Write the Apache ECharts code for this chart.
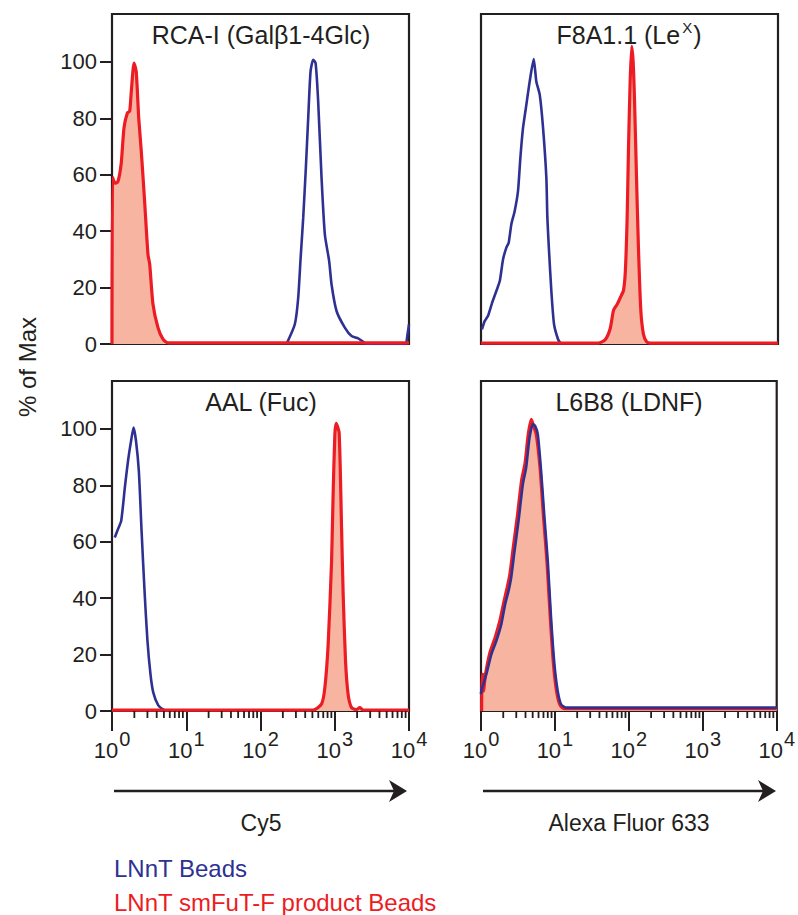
<!DOCTYPE html>
<html>
<head>
<meta charset="utf-8">
<script src="https://cdn.jsdelivr.net/npm/echarts/dist/echarts.min.js"></script>
<style>
html,body{margin:0;padding:0;background:#ffffff;}
#chart{width:798px;height:915px;}
</style>
</head>
<body>
<div id="chart"></div>
<script>
// ---------------- data ----------------
const panelTitles = ['RCA-I (Galβ1-4Glc)', 'F8A1.1 (Le{sup|X}{t|)}', 'AAL (Fuc)', 'L6B8 (LDNF)'];
const axisNames = ['Cy5', 'Alexa Fluor 633'];
const yAxisName = '% of Max';
const legendNames = ['LNnT Beads', 'LNnT smFuT-F product Beads'];
const yTickValues = [0, 20, 40, 60, 80, 100];
const xMajorTicks = [1, 10, 100, 1000, 10000];
const xMinorTicks = [2,3,4,5,6,7,8,9, 20,30,40,50,60,70,80,90, 200,300,400,500,600,700,800,900, 2000,3000,4000,5000,6000,7000,8000,9000];

// [fluorescence, % of max]
const rcaBeads = [[224,0],[290,7],[322,16.4],[347,30.5],[376,44.7],[408,62.4],[439,80.1],[472,96.6],[512,100.8],[552,99.6],[598,86],[664,58.9],[736,38.8],[841,29.4],[906,21.1],[1057,11.7],[1367,5.8],[1683,2.8],[2065,2.0],[2679,0.1],[8900,0],[9500,3],[10000,7]];
const rcaProduct = [[1,0],[1.02,59],[1.1,57],[1.2,57.5],[1.33,64],[1.45,76.6],[1.61,81.9],[1.73,82.5],[1.82,89.6],[1.98,99.6],[2.12,96.6],[2.29,80.1],[2.48,68.3],[2.75,50.6],[3.05,31.8],[3.22,28.3],[3.56,14.2],[4.16,5.8],[4.86,1.7],[5.67,0.4],[10000,0.4]];

const f8Beads = [[1.03,5.2],[1.12,8.1],[1.24,9.9],[1.41,14.6],[1.61,18.8],[1.79,22.3],[1.98,30],[2.19,34.1],[2.36,35.9],[2.56,42.4],[2.84,47.1],[3.15,54.2],[3.39,66],[3.68,76.6],[4.08,84.8],[4.53,93.1],[5.13,101],[5.56,93.1],[6.18,88.4],[6.85,76.6],[7.59,58.9],[7.83,44.7],[8.25,32.9],[8.86,18.8],[9.63,7],[10.9,1.7],[11.9,0]];
const f8Product = [[1,0.3],[38,0.3],[47,1.5],[55,5.5],[61,12],[68,14],[75,16.4],[83,19],[88,26],[93,45],[97,70],[102,93],[107,105.5],[112,100],[117,86],[124,60],[132,34],[142,12],[154,3.5],[170,0.8],[190,0.3],[10000,0.3]];

const aalBeads = [[1.09,61.5],[1.2,64.4],[1.33,67.4],[1.5,80],[1.65,89],[1.8,95.5],[1.95,100.5],[2.1,96],[2.3,85],[2.5,64],[2.75,42],[3.0,25],[3.3,13],[3.6,6.5],[4.2,2],[5.0,0.4],[5.8,0]];
const aalProduct = [[1,0.3],[512,0.3],[664,2.5],[736,8.3],[815,23.6],[906,53],[951,77],[1003,98],[1045,102],[1146,98.7],[1235,65],[1298,41.4],[1397,17.7],[1514,5.9],[1683,1.2],[1965,0.5],[2177,1.2],[2412,0.4],[10000,0.3]];

const ldnfBeads = [[1.0,6],[1.01,7.1],[1.18,13],[1.38,20.1],[1.61,24.8],[1.88,30.7],[2.12,37.8],[2.36,42.6],[2.56,47.3],[2.84,56.7],[3.22,67.4],[3.68,80.4],[4.08,86.3],[4.53,96.9],[5.02,101.7],[5.39,101.1],[5.87,98.1],[6.5,85.1],[7.22,68.5],[8.0,53.2],[8.86,33.1],[9.84,16.6],[10.9,7.1],[12.1,2.4],[14.1,1.2],[10000,1.2]];
const ldnfProduct = [[1.02,0],[1.03,13],[1.06,13],[1.08,7],[1.15,13],[1.33,21],[1.55,26],[1.8,32],[2.05,39],[2.27,44],[2.46,48.5],[2.73,58],[3.1,69],[3.55,82],[3.95,88],[4.35,98],[4.8,103.4],[5.15,101],[5.6,98],[6.3,86],[7.0,69],[7.8,53],[8.65,33],[9.6,16],[10.6,6.5],[11.8,2],[13.5,0.8],[10000,0.8]];

const beadsByPanel = [rcaBeads, f8Beads, aalBeads, ldnfBeads];
const productByPanel = [rcaProduct, f8Product, aalProduct, ldnfProduct];

// ---------------- style ----------------
const FONT = "'Liberation Sans', Arial, Helvetica, sans-serif";
const INK = '#231f20';
const BLUE = '#2e3192';
const RED = '#ed1c24';
const FILL = '#f7b4a0';
const Y_MAX = 117;

const grids = [
  {left: 112, top: 14, width: 297, height: 330},
  {left: 481, top: 14, width: 297, height: 330},
  {left: 112, top: 381, width: 297, height: 330},
  {left: 481, top: 381, width: 296, height: 330}
];

const xAxes = [];
const yAxes = [];
const series = [];
grids.forEach((g, i) => {
  const bottomRow = i >= 2;
  const leftCol = i % 2 === 0;
  xAxes.push({
    type: 'log', logBase: 10, min: xMajorTicks[0], max: xMajorTicks[xMajorTicks.length - 1], gridIndex: i, position: 'bottom',
    axisLine: {show: bottomRow, onZero: false, lineStyle: {color: INK, width: 2.2}},
    splitLine: {show: false},
    axisTick: {show: bottomRow, length: 20, lineStyle: {color: INK, width: 2}},
    axisLabel: {
      show: bottomRow, margin: 18, color: INK,
      formatter: v => '{b|10}{s|' + Math.round(Math.log10(v)) + '}',
      rich: {
        b: {fontSize: 22, fontFamily: FONT, color: INK, lineHeight: 32, verticalAlign: 'bottom'},
        s: {fontSize: 20, fontFamily: FONT, color: INK, verticalAlign: 'top', padding: [0, 0, 0, 1]}
      }
    }
  });
  yAxes.push({
    type: 'value', min: 0, max: Y_MAX, gridIndex: i,
    axisLine: {show: false},
    splitLine: {show: false},
    axisTick: {show: leftCol, customValues: yTickValues, length: 12, lineStyle: {color: INK, width: 2}},
    axisLabel: {show: leftCol, customValues: yTickValues, margin: 15, fontSize: 22, fontFamily: FONT, color: INK}
  });
});

grids.forEach((g, i) => {
  const beads = {
    name: legendNames[0], type: 'line', xAxisIndex: i, yAxisIndex: i,
    data: beadsByPanel[i], showSymbol: false, smooth: 0.2,
    lineStyle: {color: BLUE, width: 2.6}, itemStyle: {color: BLUE},
    z: i === 3 ? 4 : 2
  };
  const product = {
    name: legendNames[1], type: 'line', xAxisIndex: i, yAxisIndex: i,
    data: productByPanel[i], showSymbol: false, smooth: 0.2,
    lineStyle: {color: RED, width: 3.2}, itemStyle: {color: RED},
    areaStyle: {color: FILL, opacity: 1},
    z: i === 3 ? 2 : 3
  };
  series.push(beads, product);
});

// minor ticks of the log x axes in the bottom panels, placed through the axis scale
[2, 3].forEach(i => {
  series.push({
    type: 'custom', xAxisIndex: i, yAxisIndex: i, silent: true, clip: false, z: 5,
    data: xMinorTicks.map(v => [v, 0]),
    renderItem: (params, api) => {
      const p = api.coord([api.value(0), 0]);
      return {
        type: 'line',
        shape: {x1: p[0], y1: p[1], x2: p[0], y2: p[1] + 7},
        style: {stroke: INK, lineWidth: 1.8}
      };
    }
  });
});

const titleCenters = [[261, 33], [629, 33], [261, 400], [629, 400]];
const titles = panelTitles.map((t, i) => ({
  text: i === 1 ? '{n|F8A1.1 (Le}' + t.slice(t.indexOf('{sup')) : '{n|' + t + '}',
  left: titleCenters[i][0], top: titleCenters[i][1],
  textAlign: 'center', textVerticalAlign: 'middle', padding: 0,
  textStyle: {
    rich: {
      n: {fontSize: 25, fontFamily: FONT, color: INK, fontWeight: 'normal', lineHeight: 28, verticalAlign: 'bottom'},
      t: {fontSize: 25, fontFamily: FONT, color: INK, fontWeight: 'normal', lineHeight: 28, verticalAlign: 'bottom'},
      sup: {fontSize: 15, fontFamily: FONT, color: INK, fontWeight: 'normal', verticalAlign: 'top', padding: [1, 1, 0, 2]}
    }
  }
}));
titles.push(
  {text: axisNames[0], left: 261, top: 823, textAlign: 'center', textVerticalAlign: 'middle', padding: 0,
   textStyle: {fontSize: 23, fontFamily: FONT, color: INK, fontWeight: 'normal'}},
  {text: axisNames[1], left: 629, top: 823, textAlign: 'center', textVerticalAlign: 'middle', padding: 0,
   textStyle: {fontSize: 23, fontFamily: FONT, color: INK, fontWeight: 'normal'}},
  {text: legendNames[0], left: 114, top: 868, textAlign: 'left', textVerticalAlign: 'middle', padding: 0,
   textStyle: {fontSize: 24, fontFamily: FONT, color: BLUE, fontWeight: 'normal'}},
  {text: legendNames[1], left: 114, top: 902, textAlign: 'left', textVerticalAlign: 'middle', padding: 0,
   textStyle: {fontSize: 24, fontFamily: FONT, color: RED, fontWeight: 'normal'}}
);

const arrows = [[114, 400, 407], [483, 769, 776]];
const graphics = [];
arrows.forEach(a => {
  graphics.push({
    type: 'line', silent: true,
    shape: {x1: a[0], y1: 791, x2: a[1], y2: 791},
    style: {stroke: INK, lineWidth: 2.4}
  });
  graphics.push({
    type: 'polygon', silent: true,
    shape: {points: [[a[2], 791], [a[2] - 18, 780], [a[2] - 13, 791], [a[2] - 18, 802]]},
    style: {fill: INK}
  });
});
graphics.push({
  type: 'text', silent: true, x: 27, y: 367, rotation: Math.PI / 2,
  style: {text: yAxisName, font: '24px ' + FONT, fill: INK, align: 'center', verticalAlign: 'middle'}
});

const option = {
  backgroundColor: '#ffffff',
  animation: false,
  textStyle: {fontFamily: FONT},
  title: titles,
  grid: grids.map(g => Object.assign({show: true, borderColor: INK, borderWidth: 2.2, backgroundColor: 'transparent', containLabel: false}, g)),
  xAxis: xAxes,
  yAxis: yAxes,
  series: series,
  graphic: graphics
};

const chart = echarts.init(document.getElementById('chart'), null, {renderer: 'svg'});
chart.setOption(option);
</script>
</body>
</html>
